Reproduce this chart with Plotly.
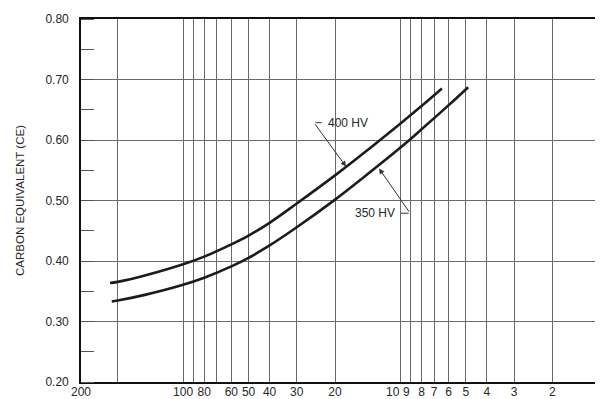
import math
import plotly.graph_objects as go

# ---- data ----
hv400_x = [217, 200, 150, 100, 80, 60, 50, 40, 30, 20, 15, 10, 8, 7, 6.45]
hv400_y = [0.3635, 0.3655, 0.376, 0.3945, 0.4072, 0.4275, 0.4420, 0.4631, 0.4950, 0.5415, 0.5764, 0.6274, 0.6562, 0.674, 0.6851]

hv350_x = [213, 200, 150, 100, 80, 60, 50, 40, 30, 20, 15, 10, 8, 6, 4.88]
hv350_y = [0.333, 0.3346, 0.344, 0.3607, 0.3723, 0.3911, 0.4053, 0.4257, 0.4557, 0.5015, 0.5365, 0.5875, 0.6176, 0.6576, 0.6873]

x_grid = [200, 100, 90, 80, 70, 60, 50, 40, 30, 20, 10, 9, 8, 7, 6, 5, 4, 3, 2]
x_text = ["", "100", "", "80", "", "60", "50", "40", "30", "20", "", "", "8", "7", "6", "5", "4", "3", "2"]
# labels that sit slightly left of their grid line in the reference
crowded_vals = [10, 9]
crowded_text = ["10", "9"]
crowded_shift = [-7, -4]
y_ticks = [0.2, 0.3, 0.4, 0.5, 0.6, 0.7, 0.8]
y_text = ["0.20", "0.30", "0.40", "0.50", "0.60", "0.70", "0.80"]

X_MIN, X_MAX = 295, 1.17

FONT = "Liberation Sans, Arial, sans-serif"
GRID = "#6a6a6a"
INK = "#1c1c1c"
TXT = "#262626"

fig = go.Figure()
fig.add_trace(go.Scatter(x=hv400_x, y=hv400_y, mode="lines", name="400 HV",
                         line=dict(color=INK, width=2.6, shape="spline", smoothing=1.0)))
fig.add_trace(go.Scatter(x=hv350_x, y=hv350_y, mode="lines", name="350 HV",
                         line=dict(color=INK, width=2.6, shape="spline", smoothing=1.0)))

L = math.log10
anns = []
# 400 HV label + leader
anns.append(dict(x=L(22.0), y=0.6286, xref="x", yref="y", text="400 HV", showarrow=False,
                 xanchor="left", yanchor="middle", font=dict(size=12, color=TXT, family=FONT)))
anns.append(dict(x=L(17.8), y=0.556, xref="x", yref="y", ax=L(25.0), ay=0.6286, axref="x", ayref="y",
                 text="", showarrow=True, arrowhead=2, arrowsize=1.1, arrowwidth=1, arrowcolor="#333", standoff=0))
anns.append(dict(x=L(23.0), y=0.6286, xref="x", yref="y", ax=L(25.0), ay=0.6286, axref="x", ayref="y",
                 text="", showarrow=True, arrowhead=0, arrowwidth=1, arrowcolor="#333", standoff=0))
# 350 HV label + leader
anns.append(dict(x=L(10.37), y=0.479, xref="x", yref="y", text="350 HV", showarrow=False,
                 xanchor="right", yanchor="middle", font=dict(size=12, color=TXT, family=FONT)))
anns.append(dict(x=L(12.55), y=0.553, xref="x", yref="y", ax=L(9.03), ay=0.479, axref="x", ayref="y",
                 text="", showarrow=True, arrowhead=2, arrowsize=1.1, arrowwidth=1, arrowcolor="#333", standoff=0))
anns.append(dict(x=L(9.94), y=0.479, xref="x", yref="y", ax=L(9.03), ay=0.479, axref="x", ayref="y",
                 text="", showarrow=True, arrowhead=0, arrowwidth=1, arrowcolor="#333", standoff=0))
# left-end x label
anns.append(dict(x=0, y=0, xref="paper", yref="paper", text="200", showarrow=False,
                 xanchor="center", yanchor="top", yshift=-1, font=dict(size=12, color=TXT, family=FONT)))
for v, t, s in zip(crowded_vals, crowded_text, crowded_shift):
    anns.append(dict(x=L(v), y=0, xref="x", yref="paper", text=t, showarrow=False,
                     xanchor="center", yanchor="top", xshift=s, yshift=-1,
                     font=dict(size=12, color=TXT, family=FONT)))

# page body adds an 8px offset, so the figure is sized/margined to compensate
fig.update_layout(
    width=595, height=391,
    margin=dict(l=73, r=0, t=11, b=17),
    paper_bgcolor="white", plot_bgcolor="white",
    showlegend=False,
    font=dict(family=FONT, size=12, color=TXT),
    annotations=anns,
    xaxis=dict(type="log", range=[L(X_MIN), L(X_MAX)], autorange=False, automargin=False,
               tickmode="array", tickvals=x_grid, ticktext=x_text, tickangle=0,
               showgrid=True, gridcolor=GRID, gridwidth=1.3,
               showline=True, linecolor="#111", linewidth=1.6, mirror=True,
               ticks="", ticklabelstandoff=-2, tickfont=dict(size=12, family=FONT, color=TXT),
               zeroline=False),
    yaxis=dict(range=[0.2, 0.8], autorange=False, automargin=False,
               tickmode="array", tickvals=y_ticks, ticktext=y_text,
               showgrid=True, gridcolor=GRID, gridwidth=1.3,
               showline=True, linecolor="#111", linewidth=1.6,
               ticks="", ticklabelstandoff=8,
               minor=dict(dtick=0.05, tick0=0.2, ticks="inside", ticklen=13, tickwidth=1.2,
                          tickcolor="#555", showgrid=False),
               tickfont=dict(size=12, family=FONT, color=TXT),
               title=dict(text="CARBON EQUIVALENT (CE)", standoff=18,
                          font=dict(size=11.5, family=FONT, color=TXT)),
               zeroline=False),
)

fig.write_html("out.html")
